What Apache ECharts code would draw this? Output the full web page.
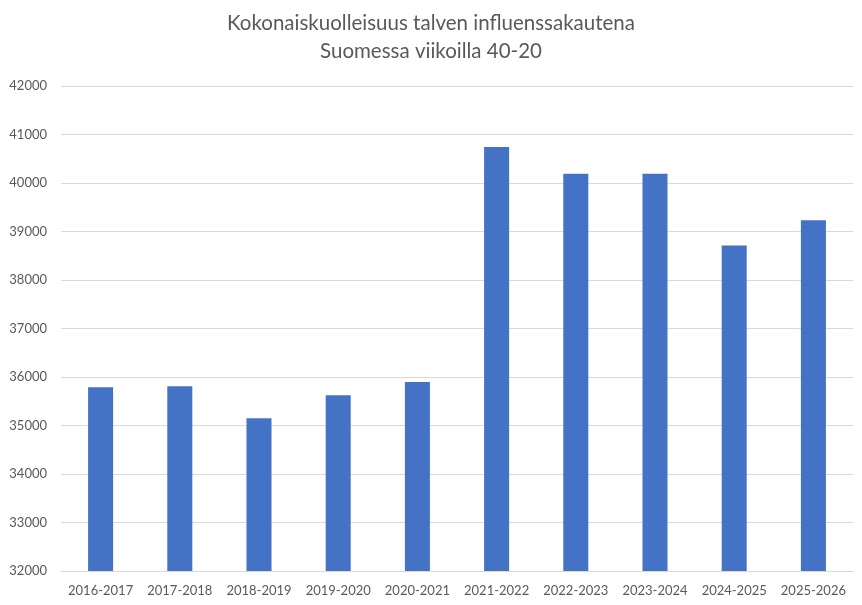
<!DOCTYPE html>
<html>
<head>
<meta charset="utf-8">
<script src="https://cdn.jsdelivr.net/npm/echarts@6/dist/echarts.min.js"></script>
<style>
  html, body { margin: 0; padding: 0; background: #fff; }
</style>
</head>
<body>
<div id="main" style="width:862px;height:605px"></div>
<script type="text/javascript">
// kaudet (viikot 40-20)
var seasons = ['2016-2017', '2017-2018', '2018-2019', '2019-2020', '2020-2021',
               '2021-2022', '2022-2023', '2023-2024', '2024-2025', '2025-2026'];
// kokonaiskuolleisuus, luettu kuvasta
var deaths = [35790, 35810, 35150, 35625, 35895, 40740, 40190, 40190, 38710, 39230];

var titleText = 'Kokonaiskuolleisuus talven influenssakautena\nSuomessa viikoilla 40-20';
var yMin = 32000, yMax = 42000, yStep = 1000;

var myChart = echarts.init(document.getElementById('main'));
var option = {
    animation: false,
    title: {
        text: titleText,
        left: 'center',
        top: 4,
        textStyle: {
            fontFamily: 'Lato',
            fontSize: 20.5,
            fontWeight: 'normal',
            color: '#595959',
            lineHeight: 28
        }
    },
    grid: {
        left: 61,
        right: 9,
        top: 86,
        bottom: 34
    },
    xAxis: {
        type: 'category',
        data: seasons,
        axisLine: { lineStyle: { color: '#d9d9d9' } },
        axisTick: { show: false },
        axisLabel: {
            interval: 0,
            color: '#595959',
            fontFamily: 'Lato',
            fontSize: 13,
            margin: 13
        }
    },
    yAxis: {
        type: 'value',
        min: yMin,
        max: yMax,
        interval: yStep,
        axisLine: { show: false },
        axisTick: { show: false },
        splitLine: { lineStyle: { color: '#d9d9d9' } },
        axisLabel: {
            color: '#595959',
            fontFamily: 'Lato',
            fontSize: 13,
            margin: 14,
            formatter: function (v) { return String(v); }
        }
    },
    series: [{
        type: 'bar',
        data: deaths,
        barWidth: '31.6%',
        itemStyle: { color: '#4472c4' }
    }]
};
myChart.setOption(option);
</script>
</body>
</html>
